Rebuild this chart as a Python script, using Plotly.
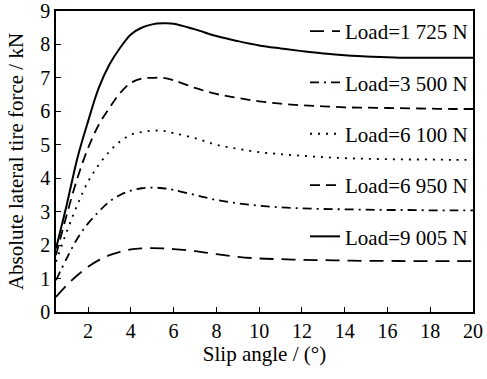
import plotly.graph_objects as go

slip = [0.5, 1, 1.5, 2, 2.5, 3, 3.5, 4, 4.5, 5, 5.5, 6, 7, 8, 9, 10, 11, 12, 13, 14, 15, 16, 17, 18, 19, 20]

f_1725 = [0.45, 0.8, 1.1, 1.35, 1.55, 1.7, 1.8, 1.87, 1.9, 1.91, 1.9, 1.88, 1.82, 1.73, 1.65, 1.6, 1.58, 1.56, 1.55, 1.54, 1.53, 1.53, 1.52, 1.52, 1.52, 1.52]
f_3500 = [0.95, 1.6, 2.2, 2.65, 3.0, 3.3, 3.5, 3.63, 3.7, 3.72, 3.7, 3.65, 3.5, 3.35, 3.25, 3.18, 3.13, 3.1, 3.08, 3.07, 3.06, 3.05, 3.05, 3.04, 3.04, 3.04]
f_6100 = [1.5, 2.4, 3.2, 3.9, 4.4, 4.8, 5.1, 5.3, 5.38, 5.42, 5.42, 5.35, 5.2, 5.0, 4.88, 4.78, 4.72, 4.67, 4.63, 4.6, 4.58, 4.57, 4.56, 4.56, 4.55, 4.55]
f_6950 = [1.7, 2.9, 4.0, 4.9, 5.6, 6.1, 6.55, 6.85, 6.98, 7.0, 7.0, 6.93, 6.7, 6.52, 6.4, 6.3, 6.23, 6.18, 6.15, 6.12, 6.11, 6.1, 6.09, 6.08, 6.07, 6.07]
f_9005 = [1.9, 3.2, 4.6, 5.7, 6.7, 7.4, 7.9, 8.3, 8.5, 8.6, 8.63, 8.62, 8.45, 8.25, 8.1, 7.97, 7.88, 7.8, 7.73, 7.68, 7.64, 7.62, 7.6, 7.6, 7.6, 7.6]

labels = ["Load=1 725 N", "Load=3 500 N", "Load=6 100 N", "Load=6 950 N", "Load=9 005 N"]
series = [f_1725, f_3500, f_6100, f_6950, f_9005]
dashes = ["14px,8px", "9px,5px,2px,5px", "2px,6px", "10px,6px", "solid"]
widths = [1.8, 1.8, 1.8, 1.8, 2]

fig = go.Figure()
for i, (lab, ys, d, w) in enumerate(zip(labels, series, dashes, widths)):
    fig.add_trace(go.Scatter(x=slip, y=ys, mode="lines", name=lab, legendgroup=str(i),
                             line=dict(color="black", width=w, dash=d, shape="spline")))

font = "Liberation Serif, Times New Roman, serif"
fig.update_layout(
    width=487, height=379,
    margin=dict(l=56, r=14, t=11, b=67),
    paper_bgcolor="white", plot_bgcolor="white",
    font=dict(family=font, size=20, color="black"),
    showlegend=True,
    legend=dict(x=1, xanchor="right", y=1.0, yanchor="top", bgcolor="rgba(0,0,0,0)",
                tracegroupgap=21, font=dict(size=21, family=font)),
    xaxis=dict(range=[0.5, 20], tickvals=[2, 4, 6, 8, 10, 12, 14, 16, 18, 20],
               ticks="inside", ticklen=5, tickwidth=1, tickcolor="black",
               showline=True, linecolor="black", linewidth=1.5, mirror=True,
               showgrid=False, zeroline=False, automargin=False,
               ticklabeloverflow="allow", tickfont=dict(size=20),
               title=dict(text="Slip angle / (°)", standoff=4, font=dict(size=21))),
    yaxis=dict(range=[0, 9], tickvals=list(range(0, 10)),
               ticks="inside", ticklen=5, tickwidth=1, tickcolor="black",
               showline=True, linecolor="black", linewidth=1.5, mirror=True,
               showgrid=False, zeroline=False, automargin=False,
               ticklabeloverflow="allow", tickfont=dict(size=20),
               title=dict(text="Absolute lateral tire force / kN", standoff=11, font=dict(size=21))),
)
fig.write_html("out.html", post_script="document.body.style.margin='0px';",
               config={"displayModeBar": False})
